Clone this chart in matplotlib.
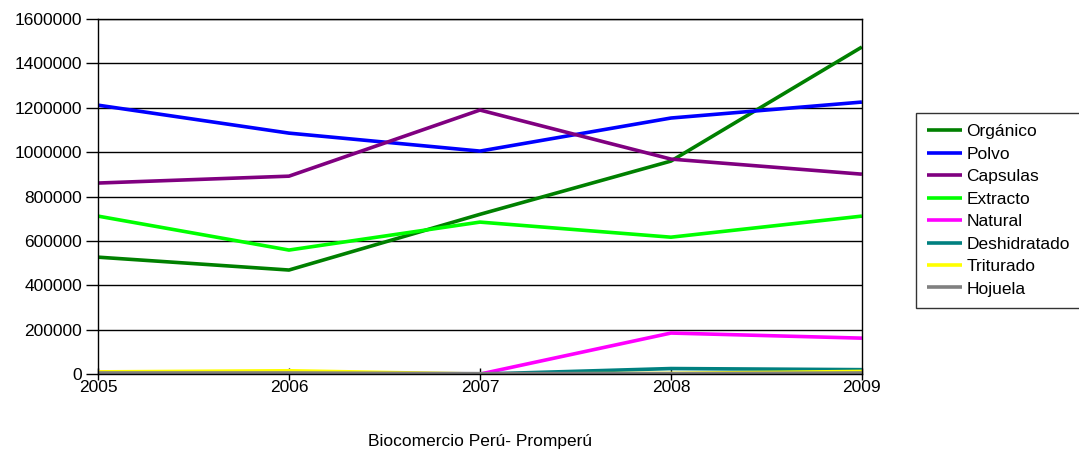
import matplotlib.pyplot as plt
import numpy as np

plt.rcParams['font.family'] = ['Liberation Sans', 'DejaVu Sans']

years = [2005, 2006, 2007, 2008, 2009]
organico = [527000, 469000, 720000, 960000, 1474000]
polvo = [1212000, 1086000, 1005000, 1154000, 1226000]
capsulas = [861000, 892000, 1190000, 969000, 901000]
extracto = [712000, 559000, 685000, 617000, 712000]
natural = [10000, 5000, 0, 185000, 162000]
deshidratado = [0, 0, 0, 25000, 20000]
triturado = [10000, 15000, 0, 3000, 12000]
hojuela = [5000, 5000, 2000, 2000, 5000]

series = [
    ('Orgánico', organico, '#008000'),
    ('Polvo', polvo, '#0000ff'),
    ('Capsulas', capsulas, '#800080'),
    ('Extracto', extracto, '#00ff00'),
    ('Natural', natural, '#ff00ff'),
    ('Deshidratado', deshidratado, '#008080'),
    ('Triturado', triturado, '#ffff00'),
    ('Hojuela', hojuela, '#808080'),
]

fig = plt.figure(figsize=(10.79, 4.54), dpi=100)
ax = fig.add_axes([0.0908, 0.176, 0.708, 0.782])

x = np.arange(len(years))
for name, vals, col in series:
    ax.plot(x, vals, color=col, lw=2.6, label=name, solid_capstyle='butt')

ax.set_xlim(0, len(years) - 1)
ax.set_ylim(0, 1600000)
ax.set_yticks(np.arange(0, 1600001, 200000))
ax.set_yticklabels([str(v) for v in range(0, 1600001, 200000)])
ax.set_xticks(x)
ax.set_xticklabels([str(y) for y in years])
ax.yaxis.grid(True, color='black', lw=1)
ax.set_axisbelow(True)
for s in ax.spines.values():
    s.set_color('black')
    s.set_linewidth(1)
ax.tick_params(axis='y', labelsize=12.5, color='black', length=8.5, width=1, pad=3)
ax.tick_params(axis='x', labelsize=12.5, direction='inout', length=8, width=1, pad=0.5)

fig.legend(loc='upper left', bbox_to_anchor=(916 / 1079, 1 - 113 / 454), frameon=True,
           fancybox=False, edgecolor='black', fontsize=12.5, handlelength=2.0,
           handletextpad=0.25, labelspacing=0.42, borderpad=0.65, borderaxespad=0)

fig.text(0.445, 0.012, 'Biocomercio Perú- Promperú', ha='center', va='bottom', fontsize=12.5)

fig.savefig('out.png', dpi=100)
